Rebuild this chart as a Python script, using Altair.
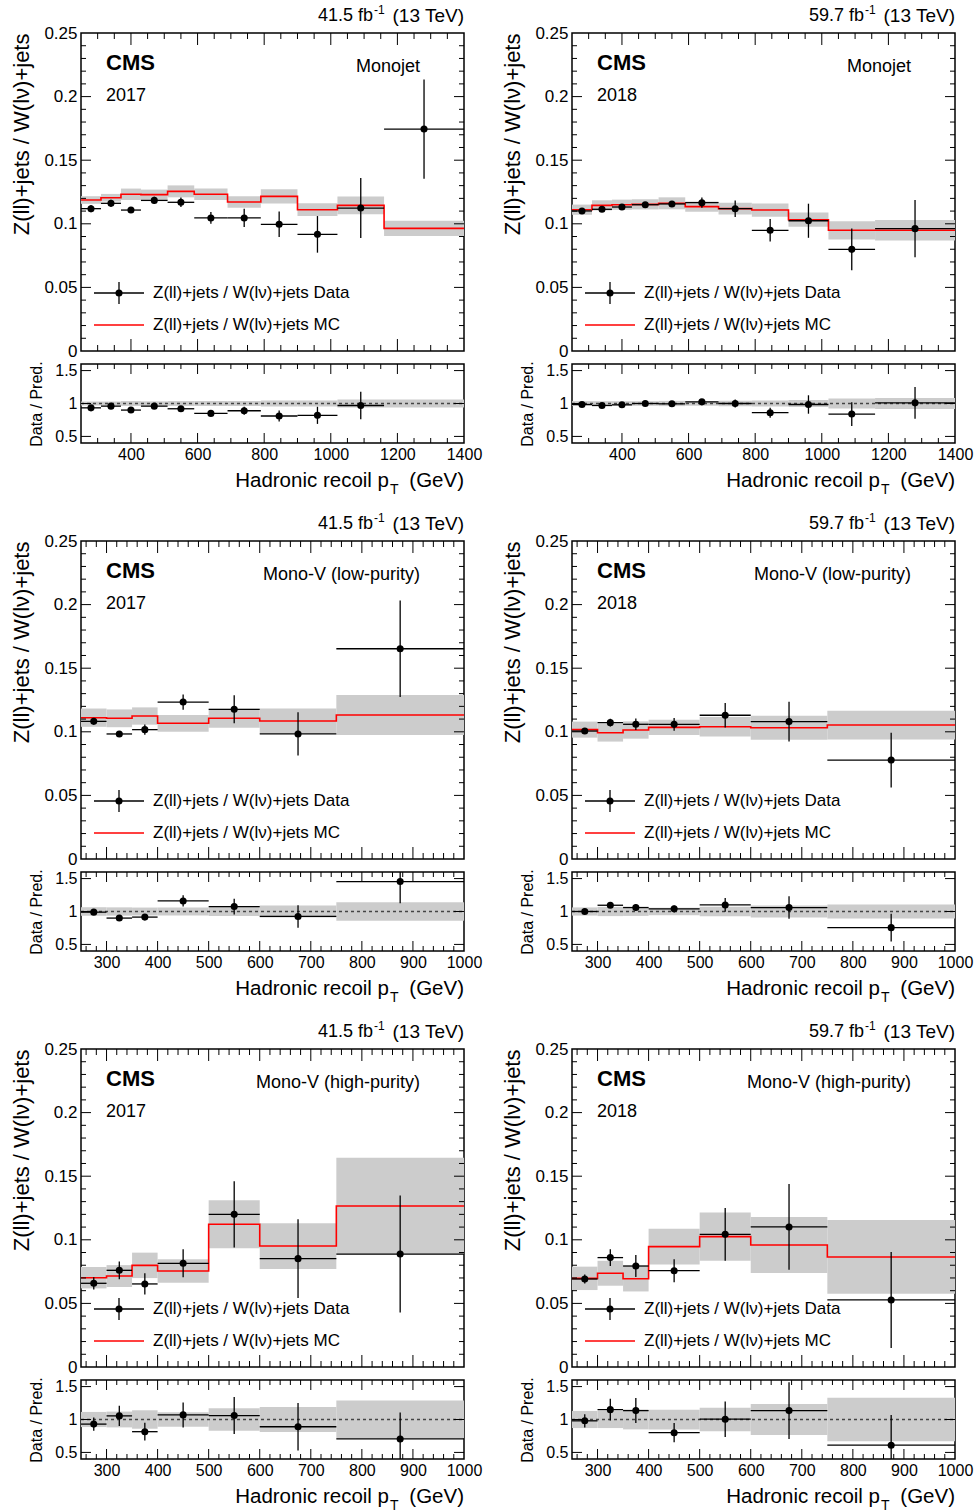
import altair as alt
import pandas as pd

FONT = "Liberation Sans"
GRAY = "#cccccc"

# ---------------- binning ----------------
mj_edges = [250, 310, 370, 430, 510, 590, 690, 790, 900, 1020, 1160, 1400]
mv_edges = [250, 300, 350, 400, 500, 600, 750, 1000]

# ---------------- Monojet 2017 ----------------
mj17_data = [0.1119, 0.1161, 0.1108, 0.1184, 0.1169, 0.1046, 0.1046, 0.0996, 0.0917, 0.1124, 0.1745]
mj17_err = [0.0028, 0.0028, 0.0022, 0.0028, 0.0037, 0.0046, 0.0072, 0.0100, 0.0144, 0.0236, 0.0390]
mj17_mc = [0.1187, 0.1205, 0.1232, 0.1229, 0.1255, 0.1232, 0.1171, 0.1216, 0.1111, 0.1145, 0.0964]
mj17_unc = [0.0030, 0.0030, 0.0045, 0.0040, 0.0047, 0.0045, 0.0045, 0.0056, 0.0050, 0.0070, 0.0060]
mj17_ratio = [0.934, 0.96, 0.90, 0.96, 0.92, 0.85, 0.89, 0.81, 0.82, 0.97, None]
mj17_rerr = [0.025, 0.025, 0.02, 0.025, 0.03, 0.04, 0.06, 0.085, 0.13, 0.21, None]
mj17_rband = [0.03, 0.03, 0.037, 0.033, 0.037, 0.037, 0.038, 0.046, 0.045, 0.061, 0.062]

# ---------------- Monojet 2018 ----------------
mj18_data = [0.1101, 0.1114, 0.1132, 0.1150, 0.1156, 0.1166, 0.1119, 0.0949, 0.1024, 0.0799, 0.0962]
mj18_err = [0.0015, 0.0020, 0.0020, 0.0020, 0.0022, 0.0040, 0.0065, 0.0088, 0.0134, 0.0165, 0.0225]
mj18_mc = [0.1111, 0.1145, 0.1150, 0.1153, 0.1161, 0.1135, 0.1119, 0.1108, 0.1032, 0.0949, 0.0949]
mj18_unc = [0.0040, 0.0040, 0.0040, 0.0040, 0.0047, 0.0040, 0.0046, 0.0052, 0.0056, 0.0072, 0.0080]
mj18_ratio = [0.985, 0.97, 0.98, 1.0, 0.995, 1.025, 1.0, 0.86, 0.985, 0.84, 1.01]
mj18_rerr = [0.015, 0.018, 0.018, 0.018, 0.02, 0.035, 0.06, 0.075, 0.14, 0.18, 0.24]
mj18_rband = [0.036, 0.035, 0.035, 0.035, 0.04, 0.035, 0.041, 0.047, 0.054, 0.076, 0.084]

# ---------------- Mono-V low purity 2017 ----------------
mvl17_data = [0.1082, 0.0983, 0.1017, 0.1234, 0.1177, 0.0983, 0.1653]
mvl17_err = [0.002, 0.002, 0.004, 0.006, 0.011, 0.017, 0.038]
mvl17_mc = [0.1111, 0.1106, 0.1124, 0.1067, 0.1106, 0.1085, 0.1132]
mvl17_unc = [0.0072, 0.0070, 0.0068, 0.0066, 0.0075, 0.0098, 0.0157]
mvl17_ratio = [0.99, 0.90, 0.915, 1.16, 1.075, 0.925, 1.455]
mvl17_rerr = [0.02, 0.03, 0.04, 0.085, 0.12, 0.17, 0.33]
mvl17_rband = [0.065, 0.063, 0.06, 0.062, 0.068, 0.09, 0.14]

# ---------------- Mono-V low purity 2018 ----------------
mvl18_data = [0.1006, 0.1072, 0.1059, 0.1059, 0.1130, 0.1080, 0.0778]
mvl18_err = [0.0015, 0.003, 0.0045, 0.005, 0.0096, 0.0156, 0.0215]
mvl18_mc = [0.1017, 0.0993, 0.1014, 0.1035, 0.1040, 0.1032, 0.1053]
mvl18_unc = [0.0063, 0.0070, 0.0068, 0.0060, 0.0077, 0.0094, 0.0113]
mvl18_ratio = [1.0, 1.095, 1.06, 1.04, 1.10, 1.06, 0.755]
mvl18_rerr = [0.02, 0.04, 0.05, 0.05, 0.105, 0.17, 0.21]
mvl18_rband = [0.062, 0.07, 0.067, 0.058, 0.074, 0.091, 0.107]

# ---------------- Mono-V high purity 2017 ----------------
mvh17_data = [0.0658, 0.0760, 0.0653, 0.0815, 0.1200, 0.0852, 0.0888]
mvh17_err = [0.0048, 0.007, 0.0084, 0.011, 0.026, 0.031, 0.046]
mvh17_mc = [0.0702, 0.0715, 0.0799, 0.0755, 0.1122, 0.0951, 0.1266]
mvh17_unc = [0.0084, 0.0086, 0.0100, 0.0092, 0.0189, 0.0180, 0.0380]
mvh17_ratio = [0.93, 1.055, 0.815, 1.07, 1.06, 0.89, 0.705]
mvh17_rerr = [0.1, 0.155, 0.135, 0.19, 0.28, 0.36, 0.40]
mvh17_rband = [0.115, 0.12, 0.14, 0.11, 0.17, 0.19, 0.29]

# ---------------- Mono-V high purity 2018 ----------------
mvh18_data = [0.0692, 0.0860, 0.0794, 0.0757, 0.1043, 0.1101, 0.0527]
mvh18_err = [0.0035, 0.0065, 0.0087, 0.009, 0.0207, 0.0337, 0.0377]
mvh18_mc = [0.0697, 0.0737, 0.0694, 0.0946, 0.1025, 0.0959, 0.0865]
mvh18_unc = [0.0092, 0.0098, 0.0100, 0.0140, 0.0190, 0.0220, 0.0290]
mvh18_ratio = [0.98, 1.15, 1.135, 0.80, 1.005, 1.135, 0.61]
mvh18_rerr = [0.1, 0.165, 0.19, 0.145, 0.27, 0.43, 0.46]
mvh18_rband = [0.13, 0.13, 0.15, 0.15, 0.18, 0.235, 0.33]

# ---------------- ticks / labels ----------------
mj_major = [400, 600, 800, 1000, 1200]
mj_minor = [300, 350, 450, 500, 550, 650, 700, 750, 850, 900, 950,
            1050, 1100, 1150, 1250, 1300, 1350]
mj_labels = [400, 600, 800, 1000, 1200, 1400]
mv_major = [300, 400, 500, 600, 700, 800, 900]
mv_minor = [260, 280, 320, 340, 360, 380, 420, 440, 460, 480, 520, 540, 560, 580,
            620, 640, 660, 680, 720, 740, 760, 780, 820, 840, 860, 880, 920, 940, 960, 980]
mv_labels = [300, 400, 500, 600, 700, 800, 900, 1000]
y_labels = [0, 0.05, 0.1, 0.15, 0.2, 0.25]
y_major = [0.05, 0.1, 0.15, 0.2]
y_minor = [0.01, 0.02, 0.03, 0.04, 0.06, 0.07, 0.08, 0.09, 0.11, 0.12, 0.13, 0.14,
           0.16, 0.17, 0.18, 0.19, 0.21, 0.22, 0.23, 0.24]
r_labels = [0.5, 1.0, 1.5]

Y_TITLE = "Z(ll)+jets / W(lν)+jets"
LEG_DATA = "Z(ll)+jets / W(lν)+jets Data"
LEG_MC = "Z(ll)+jets / W(lν)+jets MC"

W, HM, HR, HS = 383, 318, 79, 72
ONE = pd.DataFrame({"k": [0]})


def txt(s, x, y, size, align="left", weight="normal"):
    return alt.Chart(ONE).mark_text(
        text=s, fontSize=size, fontWeight=weight, align=align,
        baseline="middle", font=FONT, color="black"
    ).encode(x=alt.value(x), y=alt.value(y))


def yticks(vals, length, scale, axis, width):
    d = pd.DataFrame({"v": vals})
    left = alt.Chart(d).mark_rule(color="black", strokeWidth=1).encode(
        y=alt.Y("v:Q", scale=scale, axis=axis), x=alt.value(0), x2=alt.value(length))
    right = alt.Chart(d).mark_rule(color="black", strokeWidth=1).encode(
        y=alt.Y("v:Q", scale=scale, axis=axis), x=alt.value(width - length), x2=alt.value(width))
    return [left, right]


def xticks(vals, length, scale, axis, height):
    d = pd.DataFrame({"v": vals})
    bottom = alt.Chart(d).mark_rule(color="black", strokeWidth=1).encode(
        x=alt.X("v:Q", scale=scale, axis=axis), y=alt.value(height), y2=alt.value(height - length))
    top = alt.Chart(d).mark_rule(color="black", strokeWidth=1).encode(
        x=alt.X("v:Q", scale=scale, axis=axis), y=alt.value(0), y2=alt.value(length))
    return [bottom, top]


def make_panel(edges, data, err, mc, unc, ratio, rerr, rband,
               major, minor, labels, year, lumi, category):
    lo, hi = edges[:-1], edges[1:]
    cen = [(a + b) / 2 for a, b in zip(lo, hi)]
    mdf = pd.DataFrame({
        "lo": lo, "hi": hi, "c": cen, "data": data,
        "dlo": [d - e for d, e in zip(data, err)],
        "dhi": [d + e for d, e in zip(data, err)],
        "blo": [m - u for m, u in zip(mc, unc)],
        "bhi": [m + u for m, u in zip(mc, unc)],
    })
    sdf = pd.DataFrame({"x": edges, "y": list(mc) + [mc[-1]]})

    xs = alt.Scale(domain=[edges[0], edges[-1]], nice=False, zero=False)
    ys = alt.Scale(domain=[0, 0.25], nice=False, zero=False)
    yax = alt.Axis(values=y_labels, format=".2~f", labelFontSize=17, labelPadding=4,
                   labelFlush=False, labelOverlap=False, ticks=False, domain=False,
                   grid=False, title=Y_TITLE, titleFontSize=22, titleFontWeight="normal",
                   titleAnchor="end", titlePadding=10)

    band = alt.Chart(mdf).mark_rect(color=GRAY).encode(
        x=alt.X("lo:Q", scale=xs, axis=None), x2="hi",
        y=alt.Y("blo:Q", scale=ys, axis=yax), y2="bhi")
    line = alt.Chart(sdf).mark_line(color="#ff0000", strokeWidth=1.6,
                                    interpolate="step-after").encode(
        x=alt.X("x:Q", scale=xs, axis=None), y=alt.Y("y:Q", scale=ys, axis=yax))
    xerr = alt.Chart(mdf).mark_rule(color="black", strokeWidth=1.3, clip=True).encode(
        x=alt.X("lo:Q", scale=xs, axis=None), x2="hi", y=alt.Y("data:Q", scale=ys, axis=yax))
    yerr = alt.Chart(mdf).mark_rule(color="black", strokeWidth=1.3, clip=True).encode(
        x=alt.X("c:Q", scale=xs, axis=None), y=alt.Y("dlo:Q", scale=ys, axis=yax), y2="dhi")
    pts = alt.Chart(mdf).mark_circle(color="black", size=50, opacity=1, clip=True).encode(
        x=alt.X("c:Q", scale=xs, axis=None), y=alt.Y("data:Q", scale=ys, axis=yax))

    layers = [band, line, xerr, yerr, pts]
    layers += yticks(y_major, 10, ys, yax, W) + yticks(y_minor, 5, ys, yax, W)
    layers += xticks(major, 12, xs, None, HM) + xticks(minor, 6, xs, None, HM)
    layers += [
        txt("CMS", 25, 30, 22, weight="bold"),
        txt(year, 25, 63, 18),
        txt(category, 339, 34, 18, align="right"),
        txt(lumi + " fb", 292, -17, 18, align="right"),
        txt("-1", 293, -23, 12),
        txt("(13 TeV)", 383, -17, 19, align="right"),
        # legend
        alt.Chart(ONE).mark_rule(color="black", strokeWidth=1.3).encode(
            x=alt.value(13), x2=alt.value(63), y=alt.value(260)),
        alt.Chart(ONE).mark_rule(color="black", strokeWidth=1.3).encode(
            x=alt.value(38), y=alt.value(249), y2=alt.value(271)),
        alt.Chart(ONE).mark_circle(color="black", size=50, opacity=1).encode(
            x=alt.value(38), y=alt.value(260)),
        txt(LEG_DATA, 72, 260, 17),
        alt.Chart(ONE).mark_rule(color="#ff0000", strokeWidth=1.6).encode(
            x=alt.value(13), x2=alt.value(63), y=alt.value(292)),
        txt(LEG_MC, 72, 292, 17),
    ]
    main = alt.layer(*layers).properties(width=W, height=HM)

    # ---------------- ratio panel ----------------
    rdf = pd.DataFrame({
        "lo": lo, "hi": hi, "c": cen,
        "blo": [1 - b for b in rband], "bhi": [1 + b for b in rband],
    })
    pdf = pd.DataFrame({
        "lo": [a for a, r in zip(lo, ratio) if r is not None],
        "hi": [b for b, r in zip(hi, ratio) if r is not None],
        "c": [c for c, r in zip(cen, ratio) if r is not None],
        "r": [r for r in ratio if r is not None],
        "rlo": [r - e for r, e in zip(ratio, rerr) if r is not None],
        "rhi": [r + e for r, e in zip(ratio, rerr) if r is not None],
    })
    rys = alt.Scale(domain=[0.4, 1.6], nice=False, zero=False)
    rxax = alt.Axis(values=labels, format="d", labelFontSize=16, labelPadding=3,
                    labelFlush=False, labelOverlap=False, ticks=False, domain=False,
                    grid=False, title=None)
    ryax = alt.Axis(values=r_labels, format="~g", labelFontSize=16, labelPadding=4,
                    labelFlush=False, labelOverlap=False, ticks=False, domain=False,
                    grid=False, title="Data / Pred.", titleFontSize=16,
                    titleFontWeight="normal", titlePadding=10)
    rband_l = alt.Chart(rdf).mark_rect(color=GRAY).encode(
        x=alt.X("lo:Q", scale=xs, axis=rxax), x2="hi",
        y=alt.Y("blo:Q", scale=rys, axis=ryax), y2="bhi")
    one_line = alt.Chart(pd.DataFrame({"v": [1.0]})).mark_rule(
        color="#444444", strokeWidth=1.3, strokeDash=[3, 3]).encode(
        y=alt.Y("v:Q", scale=rys, axis=ryax), x=alt.value(0), x2=alt.value(W))
    rxerr = alt.Chart(pdf).mark_rule(color="black", strokeWidth=1.3, clip=True).encode(
        x=alt.X("lo:Q", scale=xs, axis=rxax), x2="hi", y=alt.Y("r:Q", scale=rys, axis=ryax))
    ryerr = alt.Chart(pdf).mark_rule(color="black", strokeWidth=1.3, clip=True).encode(
        x=alt.X("c:Q", scale=xs, axis=rxax), y=alt.Y("rlo:Q", scale=rys, axis=ryax), y2="rhi")
    rpts = alt.Chart(pdf).mark_circle(color="black", size=50, opacity=1, clip=True).encode(
        x=alt.X("c:Q", scale=xs, axis=rxax), y=alt.Y("r:Q", scale=rys, axis=ryax))
    rlayers = [rband_l, one_line, rxerr, ryerr, rpts]
    rlayers += yticks(r_labels, 10, rys, ryax, W)
    rlayers += xticks(major, 10, xs, rxax, HR) + xticks(minor, 5, xs, rxax, HR)
    rlayers += [
        txt("Hadronic recoil p", 308, HR + 38, 20.5, align="right"),
        txt("T", 309, HR + 47, 14),
        txt("(GeV)", 383, HR + 38, 20.5, align="right"),
    ]
    rat = alt.layer(*rlayers).properties(width=W, height=HR)
    return main, rat


def spacer():
    return alt.Chart(ONE).mark_point(opacity=0).encode(
        x=alt.value(0), y=alt.value(0)
    ).properties(width=W, height=HS, view=alt.ViewBackground(stroke=None, fill=None))


m1, r1 = make_panel(mj_edges, mj17_data, mj17_err, mj17_mc, mj17_unc, mj17_ratio, mj17_rerr,
                    mj17_rband, mj_major, mj_minor, mj_labels, "2017", "41.5", "Monojet")
m2, r2 = make_panel(mj_edges, mj18_data, mj18_err, mj18_mc, mj18_unc, mj18_ratio, mj18_rerr,
                    mj18_rband, mj_major, mj_minor, mj_labels, "2018", "59.7", "Monojet")
m3, r3 = make_panel(mv_edges, mvl17_data, mvl17_err, mvl17_mc, mvl17_unc, mvl17_ratio, mvl17_rerr,
                    mvl17_rband, mv_major, mv_minor, mv_labels, "2017", "41.5", "Mono-V (low-purity)")
m4, r4 = make_panel(mv_edges, mvl18_data, mvl18_err, mvl18_mc, mvl18_unc, mvl18_ratio, mvl18_rerr,
                    mvl18_rband, mv_major, mv_minor, mv_labels, "2018", "59.7", "Mono-V (low-purity)")
m5, r5 = make_panel(mv_edges, mvh17_data, mvh17_err, mvh17_mc, mvh17_unc, mvh17_ratio, mvh17_rerr,
                    mvh17_rband, mv_major, mv_minor, mv_labels, "2017", "41.5", "Mono-V (high-purity)")
m6, r6 = make_panel(mv_edges, mvh18_data, mvh18_err, mvh18_mc, mvh18_unc, mvh18_ratio, mvh18_rerr,
                    mvh18_rband, mv_major, mv_minor, mv_labels, "2018", "59.7", "Mono-V (high-purity)")

items = [m1, m2, r1, r2, spacer(), spacer(),
         m3, m4, r3, r4, spacer(), spacer(),
         m5, m6, r5, r6]

chart = alt.concat(
    *items, columns=2, spacing={"row": 13, "column": 108}, bounds="flush"
).properties(
    padding={"left": 10, "top": 3, "right": 5, "bottom": 5}, background="white"
).configure_view(
    stroke="black", strokeWidth=1.5
).configure_axis(
    labelFont=FONT, titleFont=FONT, labelColor="black", titleColor="black", grid=False
).configure_text(font=FONT)

chart.save("out.html", embed_options={"renderer": "svg", "actions": False})
